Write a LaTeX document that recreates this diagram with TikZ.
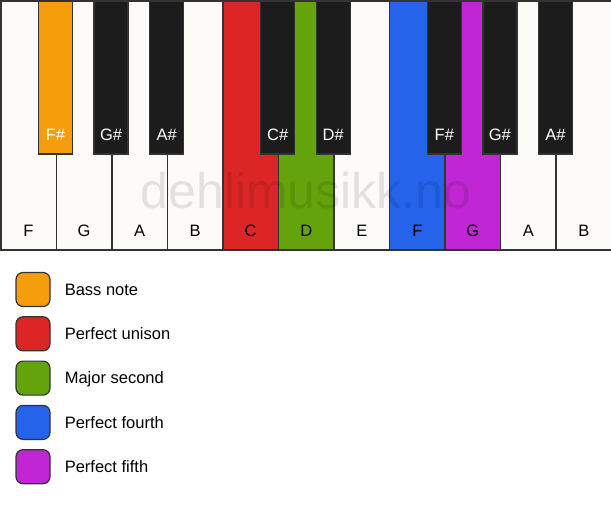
\documentclass[tikz,border=0pt]{standalone}
\usepackage{fontspec}
\setmainfont{Liberation Sans}
\usepackage{tikz}
\usetikzlibrary{positioning}

\definecolor{keyline}{HTML}{333333}
\definecolor{keywhite}{HTML}{FCFBF8}
\definecolor{keyblack}{HTML}{1C1C1C}
\definecolor{bassorange}{HTML}{F59E0B}
\definecolor{unisonred}{HTML}{DC2626}
\definecolor{secondgreen}{HTML}{65A30D}
\definecolor{fourthblue}{HTML}{2563EB}
\definecolor{fifthpurple}{HTML}{C026D3}

\tikzset{
  whitekey/.style={draw=keyline,line width=1.5pt,minimum width=55.55pt,minimum height=249pt,inner sep=0pt,anchor=north west},
  blackkey/.style={draw=keyline,line width=1.5pt,minimum width=34pt,minimum height=153pt,inner sep=0pt,anchor=north},
  keylabel/.style={font=\fontsize{16.5}{19}\selectfont,inner sep=0pt,anchor=center,yshift=20pt},
  legendbox/.style={draw=keyline,line width=1.2pt,rounded corners=7pt,minimum size=34pt,inner sep=0pt},
  legendtext/.style={font=\fontsize{16.5}{19}\selectfont,inner sep=0pt,text height=12pt,text depth=0.5pt}
}

\begin{document}
\begin{tikzpicture}[x=1pt,y=-1pt]
    \useasboundingbox (0,0) rectangle (611,506);
    \fill[white] (0,0) rectangle (611,506);
    % white keys
    \foreach \n/\c [count=\i from 0] in {F/keywhite,G/keywhite,A/keywhite,B/keywhite,C/unisonred,D/secondgreen,E/keywhite,F/fourthblue,G/fifthpurple,A/keywhite,B/keywhite}
      \node[whitekey,fill=\c,label={[keylabel]south:\n}] (w\i) at (\i*55.545,0) {};
    % black keys
    \foreach \i/\n/\c in {1/F\#/bassorange,2/G\#/keyblack,3/A\#/keyblack,5/C\#/keyblack,6/D\#/keyblack,8/F\#/keyblack,9/G\#/keyblack,10/A\#/keyblack}
      \node[blackkey,fill=\c,label={[keylabel,text=white]south:\n}] (b\i) at (\i*55.545,0) {};
    \node[font=\fontsize{50}{50}\selectfont,text=black,text opacity=0.1,anchor=base,inner sep=0pt] (mark) at (306,208) {dehlimusikk.no};
    % legend
    \foreach \c/\t [count=\k from 0] in {bassorange/Bass note,unisonred/Perfect unison,secondgreen/Major second,fourthblue/Perfect fourth,fifthpurple/Perfect fifth} {
      \node[legendbox,fill=\c] (l\k) at (33,289.5+\k*44.3) {};
      \node[legendtext,right=14pt of l\k] (t\k) {\t};
    }
  \end{tikzpicture}
\end{document}
